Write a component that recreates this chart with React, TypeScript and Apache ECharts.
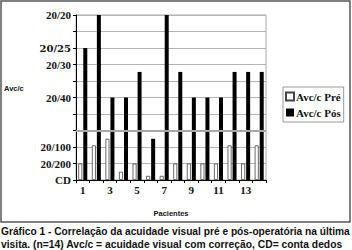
import React, { useEffect, useRef } from "react";
import * as echarts from "echarts";

const patients = ["1", "2", "3", "4", "5", "6", "7", "8", "9", "10", "11", "12", "13", "14"];
const preValues = [1, 2.1, 2.5, 0.5, 1, 0.25, 0.25, 1, 1, 1, 1, 2.1, 1, 2.1];
const posValues = [8, 10, 5, 5, 6.55, 2.5, 10, 6.55, 5, 5, 5, 6.55, 6.55, 6.55];
const yTickValues = [0, 1, 2, 5, 7, 8, 10];
const yTickNames = ["CD", "20/200", "20/100", "20/40", "20/30", "20/25", "20/20"];
const seriesNames = ["Avc/c Pré", "Avc/c Pós"];
const captionLines = [
  "Gráfico 1 - Correlação da acuidade visual pré e pós-operatória na última",
  "visita. (n=14) Avc/c = acuidade visual com correção, CD= conta dedos",
];

export default function App() {
  const ref = useRef<HTMLDivElement>(null);
  useEffect(() => {
    if (!ref.current) return;
    const chart = echarts.init(ref.current, null, { renderer: "svg" });
    const serif = "'Liberation Serif', 'Times New Roman', serif";
    const serif2 = "'DejaVu Serif', serif";
    const sans = "'Liberation Sans', Arial, sans-serif";
    const gridLeft = 76;
    const baseGraphic: any[] = [
      {
        type: "rect",
        shape: { x: 1, y: 1, width: 349, height: 221 },
        style: { fill: "none", stroke: "#555", lineWidth: 1.5 },
        silent: true,
      },
      {
        type: "text",
        x: 4,
        y: 88,
        style: { text: "Avc/c", fontFamily: sans, fontWeight: "bold", fontSize: 7.5, fill: "#111", textVerticalAlign: "middle" },
      },
      {
        type: "text",
        x: 1,
        y: 231,
        style: { text: captionLines[0], fontFamily: sans, fontWeight: "bold", fontSize: 10.2, fill: "#111", textVerticalAlign: "middle" },
      },
      {
        type: "text",
        x: 1,
        y: 244,
        style: { text: captionLines[1], fontFamily: sans, fontWeight: "bold", fontSize: 10.3, fill: "#111", textVerticalAlign: "middle" },
      },
    ];
    chart.setOption({
      animation: false,
      backgroundColor: "#fff",
      grid: {
        left: gridLeft,
        right: 86,
        top: 15,
        bottom: 70,
        show: true,
        borderColor: "#aaa",
        borderWidth: 1,
        backgroundColor: "transparent",
      },
      legend: {
        orient: "vertical",
        left: 283,
        top: 87,
        icon: "rect",
        itemWidth: 8,
        itemHeight: 8,
        itemGap: 5,
        padding: [4, 3, 4, 2],
        borderColor: "#999",
        borderWidth: 1,
        data: seriesNames,
        textStyle: { fontFamily: serif, fontWeight: "bold", fontSize: 11, color: "#111", padding: [0, 0, 0, -3] },
      },
      xAxis: {
        type: "category",
        data: patients,
        axisLine: { lineStyle: { color: "#000", width: 1 } },
        axisTick: { show: true, length: 3, interval: 0, lineStyle: { color: "#000" } },
        axisLabel: {
          interval: 1,
          fontFamily: serif,
          fontWeight: "bold",
          fontSize: 11,
          color: "#111",
          margin: 4,
        },
        name: "Pacientes",
        nameLocation: "middle",
        nameGap: 29,
        nameTextStyle: { fontFamily: sans, fontWeight: "bold", fontSize: 7.5, color: "#111" },
      },
      yAxis: {
        type: "value",
        min: 0,
        max: 10,
        interval: 1,
        axisLine: { show: true, lineStyle: { color: "#000", width: 1 } },
        axisTick: { show: true, length: 3, lineStyle: { color: "#000" } },
        splitLine: { show: true, lineStyle: { color: "#b4b4b4", width: 1 } },
        axisLabel: { show: false },
      },
      series: [
        {
          name: seriesNames[0],
          type: "bar",
          data: preValues,
          barWidth: 4,
          barGap: "25%",
          itemStyle: { color: "#fff", borderColor: "#444", borderWidth: 0.8 },
          markLine: {
            silent: true,
            symbol: "none",
            label: { show: false },
            lineStyle: { color: "#a8a8a8", width: 2, type: "solid" },
            data: [{ yAxis: 3 }],
          },
        },
        {
          name: seriesNames[1],
          type: "bar",
          data: posValues,
          barWidth: 4,
          itemStyle: { color: "#000" },
        },
      ],
      graphic: baseGraphic,
    });
    const labelGraphic = yTickValues.map((v, i) => {
      const py = chart.convertToPixel({ yAxisIndex: 0 }, v) as number;
      const alt = yTickNames[i] === "20/25";
      return {
        type: "text",
        z: 100,
        x: gridLeft - 5,
        y: alt ? py + 0.5 : py,
        style: {
          text: yTickNames[i],
          fontFamily: alt ? serif2 : serif,
          fontWeight: "bold",
          fontSize: alt ? 10 : 11,
          fill: "#111",
          textAlign: "right",
          textVerticalAlign: "middle",
        },
      };
    });
    chart.setOption({ graphic: [...baseGraphic, ...labelGraphic] });
    return () => chart.dispose();
  }, []);
  return (
    <div
      ref={ref}
      style={{ position: "absolute", left: 0, top: 0, width: 352, height: 250 }}
    />
  );
}
